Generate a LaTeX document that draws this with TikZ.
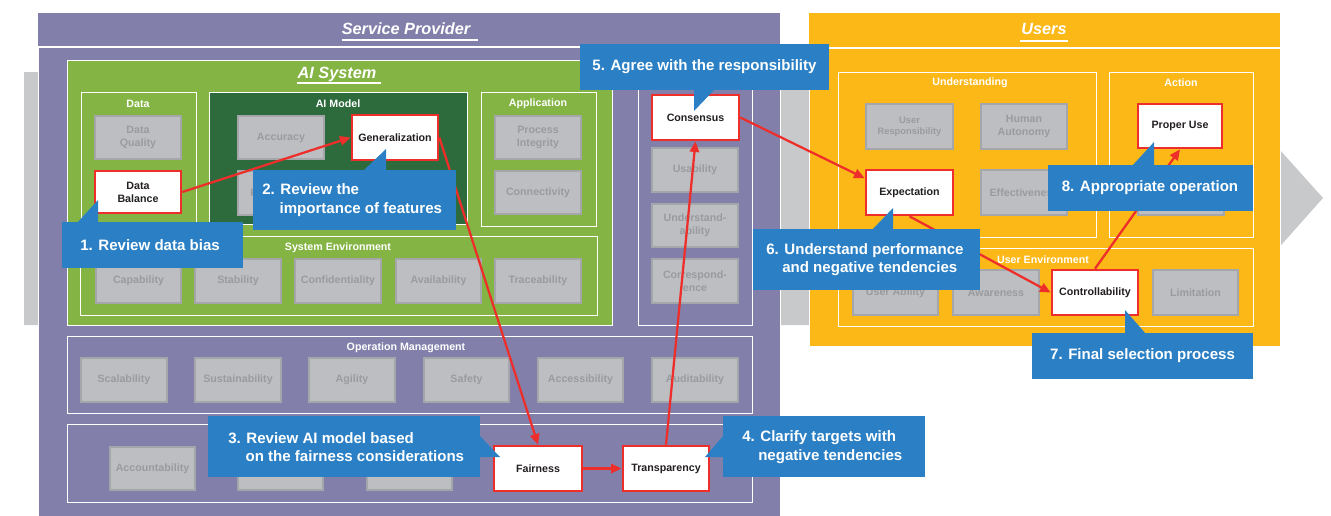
\documentclass[tikz,border=0pt]{standalone}
\usepackage{fontspec}
\setmainfont{Liberation Sans}
\usetikzlibrary{fit,calc,arrows.meta}
\definecolor{purp}{HTML}{8280AA}
\definecolor{grn}{HTML}{84B443}
\definecolor{dkgrn}{HTML}{2D6B3C}
\definecolor{yel}{HTML}{FCB817}
\definecolor{bluec}{HTML}{2B80C5}
\definecolor{redc}{HTML}{EE2E2B}
\definecolor{boxgray}{HTML}{BDBEC1}
\definecolor{boxedge}{HTML}{A5A6A9}
\definecolor{boxtext}{HTML}{9A9B9E}
\definecolor{darktext}{HTML}{231F20}
\definecolor{bgarrow}{HTML}{C8C9CB}
% style, name, x1, y1, x2, y2, text
\newcommand\mkbox[7]{%
  \node[#1, minimum width={(#5-#3)*0.75pt}, minimum height={(#6-#4)*0.75pt}]
    (#2) at ({(#3+#5)/2},{(#4+#6)/2}) {#7};}
\begin{document}
\begin{tikzpicture}[x=0.75pt,y=-0.75pt,
  area/.style={draw=white, line width=0.6pt, inner sep=0pt},
  panel/.style={inner sep=0pt},
  gbox/.style={fill=boxgray, draw=boxedge, line width=0.8pt, text=boxtext, font=\bfseries\fontsize{8}{9.6}\selectfont, align=center, inner sep=0pt},
  rbox/.style={fill=white, draw=redc, line width=2pt, text=darktext, font=\bfseries\fontsize{8}{9.6}\selectfont, align=center, inner sep=0pt},
  hdr/.style={text=white, font=\bfseries\fontsize{8}{9.6}\selectfont, inner sep=0pt},
  ttl/.style={text=white, font=\bfseries\itshape\fontsize{12.2}{14}\selectfont, inner sep=0pt},
  uline/.style={draw=white, line width=0.8pt},
  cbox/.style={fill=bluec, inner sep=0pt},
  ctext/.style={text=white, font=\bfseries\fontsize{11.3}{14}\selectfont, align=left, inner sep=0pt},
  link/.style={draw=redc, line width=1.7pt, -{Triangle[length=8pt,width=7pt]}}
]
\useasboundingbox (0,0) rectangle (1331,515);
% background arrow
\fill[bgarrow] (24,72) -- (1210,72) -- (1323,198) -- (1210,325) -- (24,325) -- cycle;

% Service provider panel
\node[panel, fill=purp, fit={(38,13) (780,46)}] (sphead) {};
\node[panel, fill=purp, draw=white, line width=0.6pt, fit={(38,47) (780,516)}] (spbody) {};
\node[ttl] (sptitle) at (406,29) {Service Provider};
\draw[uline] (342,40) -- (478,40);

% Users panel
\node[panel, fill=yel, fit={(809,13) (1280,47)}] (uhead) {};
\node[panel, fill=yel, draw=white, line width=0.6pt, fit={(809,48) (1280,346)}] (ubody) {};
\node[ttl] (utitle) at (1044,29) {Users};
\draw[uline] (1020,41) -- (1068,41);

% AI system
\node[panel, fill=grn, draw=white, line width=0.6pt, fit={(67,60) (612,325)}] (ais) {};
\node[ttl] (aistitle) at (337,75) {AI System};
\draw[uline] (297,83) -- (381,83);

\node[area, fit={(81,92) (196,226)}] (data) {};
\node[hdr] (datah) at (138,104) {Data};
\node[area, fill=dkgrn, fit={(209,92) (467,224)}] (aim) {};
\node[hdr] (aimh) at (338,104) {AI Model};
\node[area, fit={(481,92) (596,226)}] (app) {};
\node[hdr] (apph) at (538,104) {Application};
\node[area, fit={(80,236) (597,315)}] (senv) {};
\node[hdr] (senvh) at (338,248) {System Environment};

\node[area, fit={(638,86) (752,325)}] (rcol) {};
\node[area, fit={(67,336) (752,413)}] (opm) {};
\node[hdr] (opmh) at (406,348) {Operation Management};
\node[area, fit={(67,424) (752,502)}] (brow) {};

\node[area, fit={(838,72) (1096,237)}] (undb) {};
\node[hdr] (undh) at (970,83) {Understanding};
\node[area, fit={(1109,72) (1253,237)}] (act) {};
\node[hdr] (acth) at (1181,83) {Action};
\node[area, fit={(838,248) (1253,326)}] (uenv) {};
\node[hdr] (uenvh) at (1043,260) {User Environment};

% gray boxes
\mkbox{gbox}{dq}{95}{116}{181}{159}{Data\\Quality}
\mkbox{gbox}{acc}{238}{116}{324}{159}{Accuracy}
\mkbox{gbox}{rob}{238}{171}{324}{215}{Robustness}
\mkbox{gbox}{pi}{495}{116}{581}{159}{Process\\Integrity}
\mkbox{gbox}{conn}{495}{171}{581}{214}{Connectivity}
\mkbox{gbox}{cap}{96}{259}{181}{303}{Capability}
\mkbox{gbox}{stab}{195}{259}{281}{303}{Stability}
\mkbox{gbox}{conf}{295}{259}{381}{303}{Confidentiality}
\mkbox{gbox}{avail}{396}{259}{481}{303}{Availability}
\mkbox{gbox}{trace}{495}{259}{581}{303}{Traceability}
\mkbox{gbox}{usab}{652}{148}{738}{192}{Usability}
\mkbox{gbox}{undst}{652}{204}{738}{247}{Understand-\\ability}
\mkbox{gbox}{corr}{652}{259}{738}{303}{Correspond-\\ence}
\mkbox{gbox}{scal}{81}{358}{167}{402}{Scalability}
\mkbox{gbox}{sust}{195}{358}{281}{402}{Sustainability}
\mkbox{gbox}{agil}{309}{358}{395}{402}{Agility}
\mkbox{gbox}{safe}{424}{358}{509}{402}{Safety}
\mkbox{gbox}{acces}{538}{358}{623}{402}{Accessibility}
\mkbox{gbox}{audit}{652}{358}{738}{402}{Auditability}
\mkbox{gbox}{accnt}{110}{447}{195}{490}{Accountability}
\mkbox{gbox}{hidb}{238}{447}{323}{490}{}
\mkbox{gbox}{hidc}{367}{447}{452}{490}{}
\mkbox{gbox, font=\bfseries\fontsize{7}{8.6}\selectfont}{ur}{866}{104}{953}{149}{User\\Responsibility}
\mkbox{gbox}{ha}{981}{104}{1067}{149}{Human\\Autonomy}
\mkbox{gbox}{eff}{981}{170}{1067}{215}{Effectiveness}
\mkbox{gbox}{hida}{1138}{170}{1224}{215}{}
\mkbox{gbox}{uab}{853}{270}{938}{315}{User Ability}
\mkbox{gbox}{aw}{953}{270}{1039}{315}{Awareness}
\mkbox{gbox}{lim}{1153}{270}{1238}{315}{Limitation}

% red boxes
\mkbox{rbox}{bal}{95}{171}{181}{213}{Data\\Balance}
\mkbox{rbox}{gen}{352}{115}{438}{160}{Generalization}
\mkbox{rbox}{cons}{652}{95}{739}{140}{Consensus}
\mkbox{rbox}{fair}{494}{446}{582}{491}{Fairness}
\mkbox{rbox}{trans}{623}{446}{709}{491}{Transparency}
\mkbox{rbox}{exp}{866}{170}{953}{215}{Expectation}
\mkbox{rbox}{pu}{1138}{104}{1222}{148}{Proper Use}
\mkbox{rbox}{ctrl}{1052}{270}{1138}{315}{Controllability}

% red connectors
\draw[link] (bal.east) -- (gen.west);
\draw[link] (gen.east) -- (fair.north);
\draw[link] (fair.east) -- (trans.west);
\draw[link] (trans.north) -- (cons.south);
\draw[link] (cons.east) -- ($(exp.north west)!0.2!(exp.south west)$);
\draw[link] (exp.south) -- (ctrl.west);
\draw[link] (ctrl.north) -- (pu.south);

% callouts
\node[cbox, fit={(62,222) (243,268)}] (c1) {};
\fill[bluec] (77,223) -- (98,200) -- (98,223) -- cycle;
\node[ctext, anchor=west] (c1t) at (80,245) {1. Review data bias};

\node[cbox, fit={(253,170) (456,230)}] (c2) {};
\fill[bluec] (363,171) -- (386,149) -- (386,171) -- cycle;
\node[ctext, anchor=west] (c2t) at (262,200) {2. Review the\\\hspace*{13pt}importance of features};

\node[cbox, fit={(208,416) (480,477)}] (c3) {};
\fill[bluec] (479,435) -- (500,457) -- (479,457) -- cycle;
\node[ctext, anchor=west] (c3t) at (228,447) {3. Review AI model based\\\hspace*{13pt}on the fairness considerations};

\node[cbox, fit={(723,416) (925,477)}] (c4) {};
\fill[bluec] (724,435) -- (705,457) -- (724,457) -- cycle;
\node[ctext, anchor=west] (c4t) at (742,447) {4. Clarify targets with\\\hspace*{12pt}negative tendencies};

\node[cbox, fit={(580,44) (829,90)}] (c5) {};
\fill[bluec] (694,89) -- (694,111) -- (715,89) -- cycle;
\node[ctext] (c5t) at (704.5,67) {5. Agree with the responsibility};

\node[cbox, fit={(753,229) (980,290)}] (c6) {};
\fill[bluec] (872,230) -- (893,208) -- (893,230) -- cycle;
\node[ctext, anchor=west] (c6t) at (766,259.5) {6. Understand performance\\\hspace*{12pt}and negative tendencies};

\node[cbox, fit={(1032,333) (1253,379)}] (c7) {};
\fill[bluec] (1125,334) -- (1125,310) -- (1146,334) -- cycle;
\node[ctext] (c7t) at (1142.5,356) {7. Final selection process};

\node[cbox, fit={(1048,165) (1253,211)}] (c8) {};
\fill[bluec] (1132,166) -- (1154,142) -- (1154,166) -- cycle;
\node[ctext] (c8t) at (1150,188) {8. Appropriate operation};
\end{tikzpicture}
\end{document}
